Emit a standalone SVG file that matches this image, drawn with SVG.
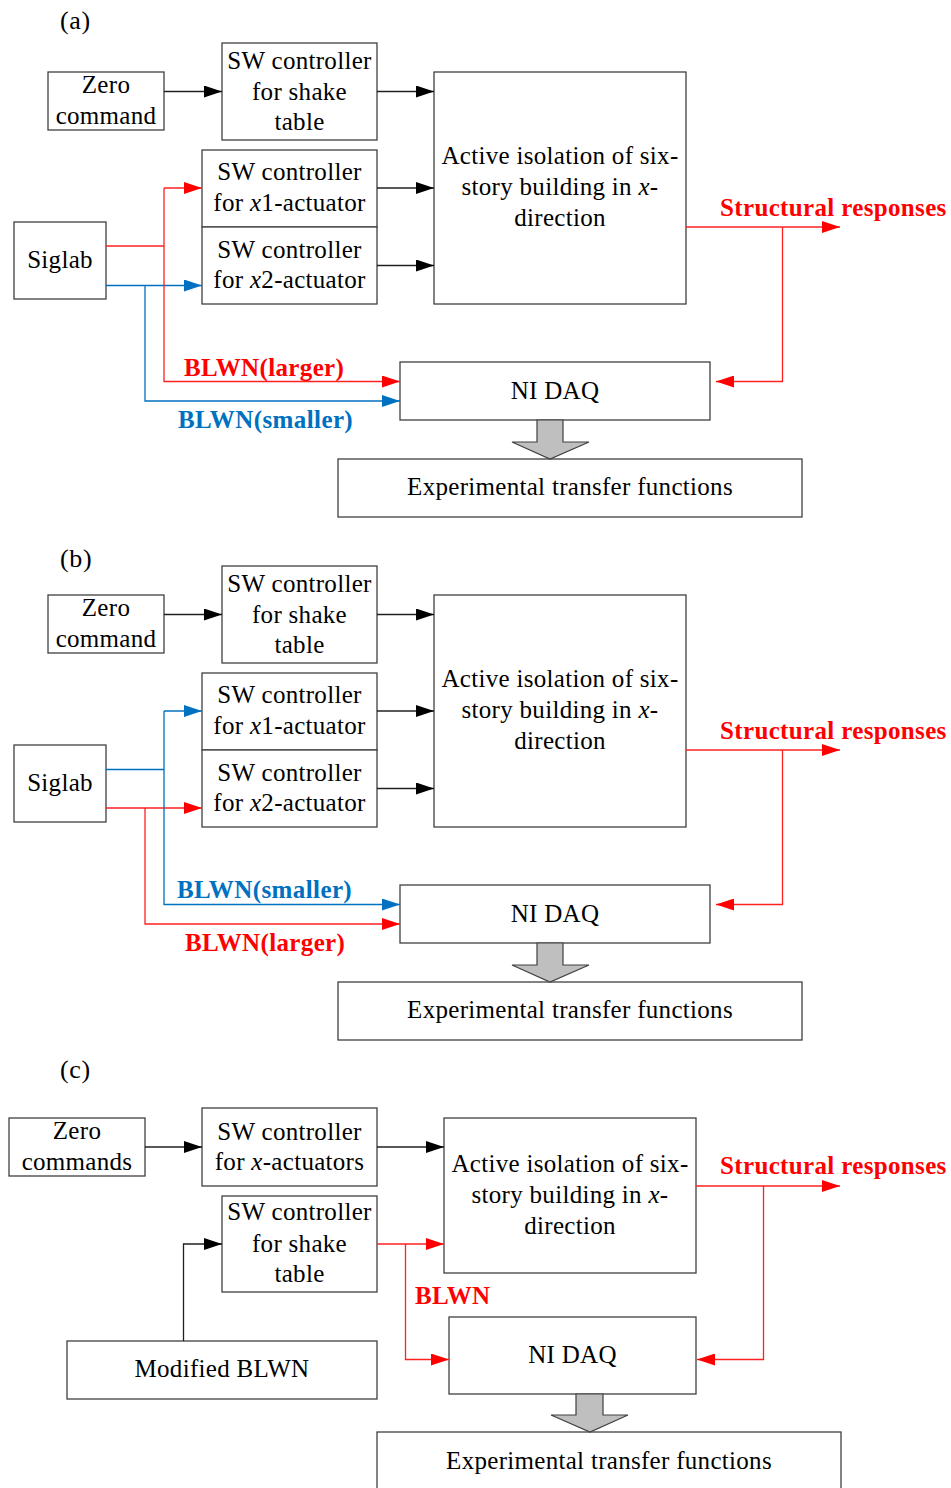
<svg xmlns="http://www.w3.org/2000/svg" width="951" height="1488" viewBox="0 0 951 1488">
<defs>
<style>
.box{fill:#fff;stroke:#404040;stroke-width:1.3}
.t{font-family:"Liberation Serif","Times New Roman",serif;font-size:25px;letter-spacing:0.3px;fill:#000;text-anchor:middle}
.lbl{font-family:"Liberation Serif","Times New Roman",serif;font-size:26px;letter-spacing:0.7px;fill:#000}
.rb{font-family:"Liberation Serif","Times New Roman",serif;font-size:25px;font-weight:bold;letter-spacing:0.35px;fill:#ff0000}
.bb{font-family:"Liberation Serif","Times New Roman",serif;font-size:25px;font-weight:bold;letter-spacing:0.4px;fill:#0070c0}
.k{fill:none;stroke:#202020;stroke-width:1.3}
.r{fill:none;stroke:#ff2020;stroke-width:1.3}
.b{fill:none;stroke:#0070c0;stroke-width:1.3}
.gray{fill:#bfbfbf;stroke:#404040;stroke-width:1.2}
.i{font-style:italic}
</style>
<marker id="ak" markerUnits="userSpaceOnUse" markerWidth="18" markerHeight="12" refX="18" refY="6" orient="auto"><path d="M0,0 L18,6 L0,12 z" fill="#000"/></marker>
<marker id="ar" markerUnits="userSpaceOnUse" markerWidth="18" markerHeight="12" refX="18" refY="6" orient="auto"><path d="M0,0 L18,6 L0,12 z" fill="#ff0000"/></marker>
<marker id="ab" markerUnits="userSpaceOnUse" markerWidth="18" markerHeight="12" refX="18" refY="6" orient="auto"><path d="M0,0 L18,6 L0,12 z" fill="#0070c0"/></marker>
</defs>
<rect width="951" height="1488" fill="#fff"/>

<!-- ===== Panel (a) ===== -->
<text class="lbl" x="60" y="29">(a)</text>
<g id="a-zero"><rect class="box" x="48" y="72" width="116" height="58"/><text class="t" x="106" y="93">Zero</text><text class="t" x="106" y="124">command</text></g>
<g id="a-swshake"><rect class="box" x="222" y="43" width="155" height="97"/><text class="t" x="299.5" y="69">SW controller</text><text class="t" x="299.5" y="100">for shake</text><text class="t" x="299.5" y="130">table</text></g>
<g id="a-active"><rect class="box" x="434" y="72" width="252" height="232"/><text class="t" x="560" y="164">Active isolation of six-</text><text class="t" x="560" y="195">story building in <tspan class="i">x</tspan>-</text><text class="t" x="560" y="226">direction</text></g>
<g id="a-x1"><rect class="box" x="202" y="150" width="175" height="77"/><text class="t" x="289.5" y="180">SW controller</text><text class="t" x="289.5" y="211">for <tspan class="i">x</tspan>1-actuator</text></g>
<g id="a-x2"><rect class="box" x="202" y="227" width="175" height="77"/><text class="t" x="289.5" y="258">SW controller</text><text class="t" x="289.5" y="288">for <tspan class="i">x</tspan>2-actuator</text></g>
<g id="a-siglab"><rect class="box" x="14" y="222" width="92" height="77"/><text class="t" x="60" y="268">Siglab</text></g>
<g id="a-nidaq"><rect class="box" x="400" y="362" width="310" height="58"/><text class="t" x="555" y="399">NI DAQ</text></g>
<g id="a-exp"><rect class="box" x="338" y="459" width="464" height="58"/><text class="t" x="570" y="495">Experimental transfer functions</text></g>
<g id="a-connectors">
<path class="k" d="M164,91.5 H222" marker-end="url(#ak)"/>
<path class="k" d="M377,91.5 H434" marker-end="url(#ak)"/>
<path class="k" d="M377,188 H434" marker-end="url(#ak)"/>
<path class="k" d="M377,265.5 H434" marker-end="url(#ak)"/>
<path class="b" d="M106,285.5 H202" marker-end="url(#ab)"/>
<path class="b" d="M145,285.5 V401 H400" marker-end="url(#ab)"/>
<path class="r" d="M106,246 H164"/>
<path class="r" d="M164,188 V381.5 H400" marker-end="url(#ar)"/>
<path class="r" d="M164,188 H202" marker-end="url(#ar)"/>
<path class="r" d="M686,227 H840" marker-end="url(#ar)"/>
<path class="r" d="M782.5,227 V381.5 H716" marker-end="url(#ar)"/>
<path class="gray" d="M537,420 H563 V442 H589 L550,459 L512,442 H537 Z"/>
<text class="rb" x="184" y="376">BLWN(larger)</text>
<text class="bb" x="178" y="428">BLWN(smaller)</text>
<text class="rb" x="720" y="216">Structural responses</text>
</g>

<!-- ===== Panel (b) ===== -->
<text class="lbl" x="60" y="567">(b)</text>
<g id="b-zero"><rect class="box" x="48" y="595" width="116" height="58"/><text class="t" x="106" y="616">Zero</text><text class="t" x="106" y="647">command</text></g>
<g id="b-swshake"><rect class="box" x="222" y="566" width="155" height="97"/><text class="t" x="299.5" y="592">SW controller</text><text class="t" x="299.5" y="623">for shake</text><text class="t" x="299.5" y="653">table</text></g>
<g id="b-active"><rect class="box" x="434" y="595" width="252" height="232"/><text class="t" x="560" y="687">Active isolation of six-</text><text class="t" x="560" y="718">story building in <tspan class="i">x</tspan>-</text><text class="t" x="560" y="749">direction</text></g>
<g id="b-x1"><rect class="box" x="202" y="673" width="175" height="77"/><text class="t" x="289.5" y="703">SW controller</text><text class="t" x="289.5" y="734">for <tspan class="i">x</tspan>1-actuator</text></g>
<g id="b-x2"><rect class="box" x="202" y="750" width="175" height="77"/><text class="t" x="289.5" y="781">SW controller</text><text class="t" x="289.5" y="811">for <tspan class="i">x</tspan>2-actuator</text></g>
<g id="b-siglab"><rect class="box" x="14" y="745" width="92" height="77"/><text class="t" x="60" y="791">Siglab</text></g>
<g id="b-nidaq"><rect class="box" x="400" y="885" width="310" height="58"/><text class="t" x="555" y="922">NI DAQ</text></g>
<g id="b-exp"><rect class="box" x="338" y="982" width="464" height="58"/><text class="t" x="570" y="1018">Experimental transfer functions</text></g>
<g id="b-connectors">
<path class="k" d="M164,614.5 H222" marker-end="url(#ak)"/>
<path class="k" d="M377,614.5 H434" marker-end="url(#ak)"/>
<path class="k" d="M377,711 H434" marker-end="url(#ak)"/>
<path class="k" d="M377,788.5 H434" marker-end="url(#ak)"/>
<path class="r" d="M106,808 H202" marker-end="url(#ar)"/>
<path class="r" d="M145,808 V924 H400" marker-end="url(#ar)"/>
<path class="b" d="M106,769.5 H164"/>
<path class="b" d="M164,711 V904.5 H400" marker-end="url(#ab)"/>
<path class="b" d="M164,711 H202" marker-end="url(#ab)"/>
<path class="r" d="M686,750 H840" marker-end="url(#ar)"/>
<path class="r" d="M782.5,750 V904.5 H716" marker-end="url(#ar)"/>
<path class="gray" d="M537,943 H563 V965 H589 L550,982 L512,965 H537 Z"/>
<text class="bb" x="177" y="898">BLWN(smaller)</text>
<text class="rb" x="185" y="951">BLWN(larger)</text>
<text class="rb" x="720" y="739">Structural responses</text>
</g>

<!-- ===== Panel (c) ===== -->
<text class="lbl" x="60" y="1078">(c)</text>
<g id="c-zero"><rect class="box" x="9" y="1118" width="136" height="58"/><text class="t" x="77" y="1139">Zero</text><text class="t" x="77" y="1170">commands</text></g>
<g id="c-swx"><rect class="box" x="202" y="1108" width="175" height="78"/><text class="t" x="289.5" y="1140">SW controller</text><text class="t" x="289.5" y="1170">for <tspan class="i">x</tspan>-actuators</text></g>
<g id="c-active"><rect class="box" x="444" y="1118" width="252" height="155"/><text class="t" x="570" y="1172">Active isolation of six-</text><text class="t" x="570" y="1203">story building in <tspan class="i">x</tspan>-</text><text class="t" x="570" y="1234">direction</text></g>
<g id="c-swshake"><rect class="box" x="222" y="1196" width="155" height="96"/><text class="t" x="299.5" y="1220">SW controller</text><text class="t" x="299.5" y="1252">for shake</text><text class="t" x="299.5" y="1282">table</text></g>
<g id="c-modblwn"><rect class="box" x="67" y="1341" width="310" height="58"/><text class="t" x="222" y="1377">Modified BLWN</text></g>
<g id="c-nidaq"><rect class="box" x="449" y="1317" width="247" height="77"/><text class="t" x="572.5" y="1363">NI DAQ</text></g>
<g id="c-exp"><rect class="box" x="377" y="1432" width="464" height="60"/><text class="t" x="609" y="1469">Experimental transfer functions</text></g>
<g id="c-connectors">
<path class="k" d="M145,1147 H202" marker-end="url(#ak)"/>
<path class="k" d="M377,1147 H444" marker-end="url(#ak)"/>
<path class="k" d="M183.5,1341 V1244 H222" marker-end="url(#ak)"/>
<path class="r" d="M377,1244 H444" marker-end="url(#ar)"/>
<path class="r" d="M405.5,1244 V1359.5 H449" marker-end="url(#ar)"/>
<path class="r" d="M696,1186 H840" marker-end="url(#ar)"/>
<path class="r" d="M763.5,1186 V1359.5 H697" marker-end="url(#ar)"/>
<path class="gray" d="M576,1394 H603 V1415 H628 L590,1432 L551,1415 H576 Z"/>
<text class="rb" x="415" y="1304">BLWN</text>
<text class="rb" x="720" y="1174">Structural responses</text>
</g>
</svg>
